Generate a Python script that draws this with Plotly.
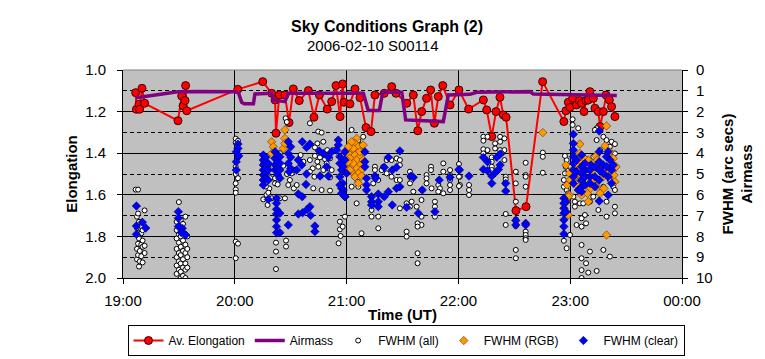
import pandas as pd
import plotly.graph_objects as go

# ---------------- data (time = minutes after 19:00 UT) ----------------
title = "Sky Conditions Graph (2)"
subtitle = "2006-02-10 S00114"
start = "2006-02-10 19:00"
x_ticks_text = ["19:00", "20:00", "21:00", "22:00", "23:00", "00:00"]

elongation = [(6.8,1.109),(7.2,1.189),(8.6,1.165),(8.9,1.189),(10.2,1.088),(11.6,1.16),(29.5,1.244),(31.5,1.125),
 (32.2,1.173),(33.3,1.147),(33.6,1.075),(34.2,1.196),(61.6,1.093),(75.0,1.056),(79.8,1.112),(81.6,1.144),(82.1,1.304),
 (83.9,1.12),(86.9,1.12),(89.1,1.253),(91.4,1.091),(94.6,1.147),(99.5,1.099),(102.5,1.227),(105.4,1.12),(109.6,1.188),
 (112.0,1.152),(114.3,1.075),(116.5,1.224),(117.9,1.067),(118.6,1.155),(121.8,1.163),(124.5,1.091),(127.2,1.133),
 (130.4,1.277),(133.1,1.296),(135.2,1.12),(140.2,1.112),(144.2,1.08),(146.5,1.112),(152.3,1.16),(155.8,1.12),
 (158.2,1.292),(160.3,1.2),(162.9,1.136),(165.1,1.096),(167.1,1.256),(169.2,1.128),(171.6,1.075),(175.5,1.168),
 (180.3,1.096),(185.5,1.188),(193.4,1.144),(195.2,1.192),(197.9,1.32),(200.2,1.2),(202.3,1.131),(204.1,1.216),
 (205.6,1.227),(210.9,1.676),(216.3,1.657),(225.2,1.056),(236.6,1.248),(237.7,1.196),(239.0,1.155),(239.9,1.18),
 (241.3,1.136),(243.4,1.168),(244.9,1.147),(246.1,1.16),(247.4,1.2),(248.5,1.147),(249.7,1.144),(250.6,1.104),
 (252.4,1.136),(253.3,1.184),(255.1,1.2),(256.0,1.272),(257.8,1.2),(259.2,1.12),(261.0,1.144),(262.2,1.176),(264.0,1.224)]

airmass = [(7,1.33),(18,1.2),(29.5,1.05),(40,1.03),(50,1.05),(60,1.05),(62,1.1),(63.7,1.55),(65,1.62),(70,1.62),
 (70.8,1.15),(79.8,1.12),(80.7,1.44),(86.9,1.52),(88.7,1.12),(129,1.12),(131.6,1.95),(137.6,1.95),(139.4,1.06),
 (149.6,1.07),(151.7,2.4),(171.9,2.48),(174.6,1.2),(186.2,1.17),(189.8,1.07),(218.4,1.04),(220.2,1.15),(240,1.18),(265,1.22)]

fwhm_all = [
 (6.8,5.75),(7.5,7.05),(7.5,8.6),(7.5,9.1),(7.5,7.6),(8.1,5.75),(8.1,6.9),(8.1,7.45),(8.1,8.35),(8.1,8.9),(8.6,7.3),
 (8.6,8.1),(8.6,9.45),(9.0,7.9),(9.0,8.7),(9.0,9.2),(9.8,7.65),(9.8,7.85),(9.8,8.4),(9.8,8.95),(9.8,7.5),(10.5,8.2),
 (10.5,8.5),(10.5,9.25),(10.5,7.7),(11.6,6.75),(11.6,8.8),(11.6,8.45),
 (28.8,7.3),(28.8,7.7),(28.8,8.1),(28.8,8.6),(28.8,9.0),(28.8,9.4),(28.8,9.8),
 (30,6.35),(30,7.5),(30,7.9),(30,8.3),(30,8.8),(30,9.2),(30,9.6),
 (31,7.2),(31,7.6),(31,8.0),(31,8.5),(31,8.9),(31,9.3),(31,9.7),(31,10.0),
 (32.2,7.4),(32.2,7.8),(32.2,8.2),(32.2,8.7),(32.2,9.1),(32.2,9.5),(32.2,9.9),
 (33.5,7.05),(33.5,7.9),(33.5,8.4),(33.5,8.8),(33.5,9.3),(33.5,9.6),(33.5,10.0),
 (34.5,8.0),(34.5,8.6),(34.5,9.0),(34.5,9.5),
 (60.5,3.3),(60.5,3.5),(60.5,4.65),(60.5,5.0),(60.5,5.45),(60.5,5.75),(60.5,5.9),(60.5,8.25),(60.5,9.05),
 (61.7,3.4),(61.7,4.2),(61.7,5.2),(61.7,8.35),
 (75.3,6.22),(77.6,6.49),(79.8,6.17),(84.2,6.17),(86.9,6.17),(81.6,5.45),(89.6,5.29),(88.7,5.53),(91.7,5.69),
 (90.5,4.97),(92.3,4.81),(82.1,8.3),(87.5,8.2),(87.5,8.49),(82.1,8.73),(82.1,9.57),(116.4,7.29),(116.4,7.66),
 (116.8,7.98),(115.7,8.33),(117.9,7.53),(119.1,7.05),(100.3,2.56),(104.8,2.96),(106.6,3.01),(107.5,3.45),
 (104.3,3.53),(100.3,4.33),(103,4.13),(104.3,4.41),(105.7,4.2),(107.1,4.01),(108.4,4.29),(109.3,4.49),(111.1,4.25),
 (110.2,4.73),(112,4.81),(107.5,4.81),(104.8,4.65),(101.8,4.73),(100.3,4.89),(102.7,5.13),(106.1,5.1),(111.1,5.16),
 (102.1,5.69),(106.6,5.77),(111.1,5.8),(109.6,3.85),(112.9,3.85),(103,3.72),(95.3,4.09),(96.8,4.41),(93.2,5.53),
 (87.3,2.32),(87.9,2.5),(76,4.4),(78,4.7),(79,5.2),(78.5,5.7),(77,6.0),(86,4.6),(88,5.0),
 (75.3,4.5),(76.7,5.6),(78,5.9),(81.6,5.2),(83,5.5),(84.2,4.0),
 (122.7,2.88),(126.3,3.37),(128.9,3.21),(128,3.61),(135.2,4.65),(135.2,4.81),(138.8,4.81),(139.7,4.65),(141.5,4.33),
 (144.1,4.33),(146.8,4.25),(148.6,4.33),(148.6,4.57),(141.5,4.97),(144.1,5.13),(146.8,5.29),(148.6,5.29),(137,5.29),
 (134.3,5.45),(154,4.89),(154,5.13),(154.9,5.29),(154,5.45),(162.9,5.05),(162.9,5.21),(165.3,4.65),(165.3,4.81),
 (162.9,5.45),(165.6,5.69),(171.9,4.49),(171.9,4.89),(169.2,5.53),(170.1,5.69),(169.2,5.85),(171.9,5.93),
 (175.5,4.81),(175.5,5.05),(175.5,5.29),(175.5,5.53),(175.5,5.77),(180.8,5.13),(180.8,5.53),(160.6,5.77),
 (155.8,5.85),(160.2,6.25),(154.9,6.33),(157.6,6.57),(152.2,6.41),(154,6.57),(167.4,6.33),(167.4,6.57),(167.4,7.05),
 (160.2,7.05),(160.2,7.45),(158.1,7.37),(158.1,7.53),(125.4,6.41),(122.7,5.61),(126.3,5.61),(133.4,6.73),
 (133.4,7.05),(137,7.05),(148.6,6.65),(128,7.85),(137,7.61),(152.2,7.77),(152.2,8.01),(158.1,8.81),(158.1,9.29),
 (125.9,5.37),(124.1,5.13),
 (180.3,4.52),(180.3,4.81),(180.3,5.13),(180.3,5.58),(185.7,5.53),(185.7,5.77),(185.7,6.01),(193.4,3.21),(193.4,3.4),
 (193.4,3.81),(193.4,4.01),(195.6,3.21),(195.6,3.85),(197.9,4.2),(197.9,4.41),(197.9,4.65),(197.9,4.81),(199.7,3.53),
 (199.7,3.77),(202.4,3.21),(202.4,3.45),(202.4,3.85),(204.7,3.29),(204.7,3.85),(204.7,4.33),(203.2,4.01),(205.4,5.13),
 (205.4,5.26),(205,5.45),(210.8,4.89),(210.8,5.45),(210.8,6.33),(210.8,7.18),(216.1,4.46),(216.1,5.05),(216.1,5.13),
 (216.1,5.61),(216.1,7.77),(216.1,7.93),(216.1,8.09),(216.1,8.17),(225.3,3.97),(225.3,4.17),(225.3,4.94),(205.4,6.92),
 (205.4,7.45),(210.8,8.65),(210.8,9.05),(210.8,7.5),
 (241.3,2.37),(241.3,2.64),(244.3,2.8),(254.2,2.8),(253.3,2.88),(257.8,3.21),(259.5,3.37),(262.2,3.45),(264,3.56),
 (236.6,5.29),(236.6,5.61),(238.1,5.77),(239,5.93),(241.7,6.09),(242.5,6.33),(242.5,6.57),(245.2,6.41),(247,6.41),
 (247.9,6.97),(246.1,7.13),(248.5,7.37),(246.1,7.53),(243.4,7.45),(236.6,8.21),(238.1,8.57),(239.9,7.93),(255.1,6.73),
 (259.5,7.05),(264,6.57),(264,6.89),(260.4,4.81),(261.3,5.29),(263.1,5.61),(257.8,5.61),(252.4,6.09),(250.6,6.33),
 (246.1,8.41),(250.6,8.73),(257.8,8.65),(261.3,8.97),(246.1,9.05),(248.5,9.29),(246.1,9.62),(249.7,9.74),(254.2,9.66),
 (246.1,10.0),(237.2,4.97),(239,4.81),(253.3,5.53),(259.5,6.33),(238.1,4.33),(239.9,4.65),(243.4,5.45),(248.8,4.81),
 (252.4,4.17),(256,3.85),(261.3,3.69),(264,4.01),(264,5.77),(254.2,3.37),(237.2,4.13),(237.6,4.65)]

fwhm_rgb = [
 (79.8,3.45),(80.7,3.69),(79.8,4.01),(86.9,2.88),(86.9,3.29),(86,3.77),(86.9,3.53),(120,4.01),(120.9,4.41),(120,4.73),
 (125.4,3.29),(124.5,3.53),(126.3,3.69),(122.7,3.85),(128,3.93),(120.9,4.01),(124.5,4.09),(127.1,4.17),(121.8,4.25),
 (125.4,4.33),(128.9,4.33),(123.6,4.49),(127.1,4.57),(120,4.65),(125.4,4.73),(128,4.81),(122.7,4.89),(126.3,4.97),
 (124.5,5.13),(128,5.1),(126.3,5.45),(120.9,4.41),(123.6,3.77),(128.9,3.61),(121.8,4.81),(122.7,3.45),(127.1,3.93),
 (120.9,3.69),
 (225.3,3.01),
 (237.7,4.57),(238.4,5.53),(239.5,6.01),(239,6.97),(245.2,3.56),(245.2,4.01),(245.2,4.33),(244.3,4.81),(245.2,5.13),
 (244.3,5.61),(246.1,6.01),(249.7,6.33),(249.2,5.93),(249.7,4.33),(251.5,4.57),(252.4,4.81),(253.8,4.13),(254.5,4.33),
 (256,4.65),(257.8,5.13),(258.1,5.69),(258.7,3.65),(259.5,2.69),(259.5,7.93),(261.3,4.17),(262.2,4.49),(263.1,4.81),
 (263.5,5.05),(264,5.37),(261.3,3.93),(263.1,4.25),(264.6,4.65),(260.4,4.89),(239.5,4.97),(239.9,5.29),(242.5,5.13),
 (248.8,5.45),(251,5.69),(256,5.93),(247,4.2),(243.4,4.57),(252.4,5.29),(254.2,5.61),(241.7,4.73),(239,6.09),(238.1,6.33)]

fwhm_clear = [
 (7.2,6.54),(10.4,7.32),(7.2,7.5),(12.2,7.6),(7.2,7.9),(29.7,6.81),(29.7,7.13),(29.7,7.53),(31.8,7.61),(31.3,7.82),
 (33.6,7.93),(61.7,3.56),(61.7,3.77),(60.8,3.93),(62.1,4.13),(60.8,4.41),(60.8,4.81),
 (75.3,4.09),(75.3,4.33),(75.3,4.57),(75.3,4.81),(75.3,5.05),(75.3,5.29),(75.3,5.53),(76.7,4.2),(76.7,4.46),(76.7,4.73),
 (76.7,4.97),(76.7,5.21),(78,4.49),(78,4.81),(78,5.29),(81.6,3.93),(81.6,4.25),(81.6,4.57),(81.6,4.81),(83,4.09),
 (83,4.41),(83,4.73),(83,5.05),(84.2,4.17),(84.2,4.49),(84.2,4.81),(84.2,5.21),(82.4,6.17),(82.4,6.41),(82.4,6.7),
 (82.4,6.92),(82.4,7.21),(82.4,7.53),(82.4,7.82),(84.2,6.89),(84.2,7.82),(78,6.22),(88.7,3.45),(90,3.69),(88.7,4.01),
 (90,4.2),(88.7,4.49),(90,4.73),(89.2,4.89),(96.2,3.45),(100.3,3.56),(98.5,3.72),(94.1,4.33),(95.9,4.57),(93.2,4.81),
 (98.5,5.0),(98.2,5.5),(94.1,5.96),(96.2,6.09),(100.3,6.57),(98.9,6.7),(96.4,6.86),(94.1,6.92),(100.7,6.99),
 (88.7,7.45),(103,7.5),(103,7.77),(105.3,3.89),(107.5,4.01),(110.2,4.2),(112,3.93),(109.3,4.65),(105.7,5.1),
 (110.2,5.1),(115.5,3.37),(115.5,3.61),(114.6,3.85),(116.4,4.17),(116.4,4.49),(117.3,4.81),(116.4,5.13),(117.9,5.45),
 (118.2,5.77),(119.1,6.09),(119.1,3.93),(119.1,4.33),(118.2,4.65),(120,4.97),(117.3,5.69),(117.3,5.93),(116.4,5.53),
 (129.8,3.93),(129.8,4.41),(129.8,4.65),(130.7,5.21),(130.7,5.53),(130.7,5.77),(133.4,6.09),(133.4,6.33),(133.4,6.49),
 (137,5.96),(137,6.33),(137,6.57),(140.2,6.09),(142.4,5.85),(146.8,5.69),(148.6,5.61),(144.5,6.49),(142.4,4.2),
 (140.2,4.68),(144.5,4.81),(146.8,4.68),(148.6,3.89),(135.2,5.1),(135.6,5.21),(154.5,5.1),(155.8,5.16),(160.6,5.77),
 (152.2,6.6),(158.5,6.89),(167.4,6.81),(169.7,5.29),(175.5,5.16),(180.5,4.81),(119.1,6.09),
 (180.3,4.78),(185.7,5.1),(193.4,4.2),(195.6,4.41),(193.4,4.78),(195.6,4.84),(197.9,5.1),(199.7,4.94),(201.5,4.78),
 (202.4,4.57),(200.6,4.2),(202.4,4.04),(197.9,5.45),(205.4,5.45),(205.4,5.82),(210.8,7.24),(210.8,7.45),(216.1,7.37),
 (216.1,7.45),
 (236.6,6.17),(236.6,6.41),(236.6,6.65),(236.6,6.89),(236.6,7.21),(236.6,7.53),(237.7,6.33),(237.7,6.81),(236.6,7.88),
 (241.7,3.09),(241.7,3.53),(241.7,3.85),(241.7,4.17),(241.7,4.49),(241.7,4.81),(241.7,5.13),(241.7,5.45),(243.4,4.33),
 (243.4,4.89),(246.1,4.65),(246.1,4.97),(246.1,5.29),(246.1,5.61),(246.1,5.85),(247.9,4.49),(247.9,4.81),(247.9,5.13),
 (247.9,5.53),(250.6,4.81),(250.6,5.13),(250.6,5.45),(251,4.57),(253.3,4.65),(253.3,5.13),(253.3,5.61),(255.6,2.93),
 (255.6,3.93),(255.6,4.41),(255.6,4.81),(255.6,5.29),(255.6,6.3),(257.8,4.57),(257.8,4.97),(259.5,4.17),(259.5,4.65),
 (260.4,3.93),(260.4,5.13),(260.4,6.01),(261.3,4.33),(262.2,4.81),(263.1,4.57),(262.2,5.45),(246.1,4.09),(244.3,5.77)]

# ---------------- build ----------------
t0 = pd.Timestamp(start)
def split(pairs):
    xs = [t0 + pd.Timedelta(minutes=p[0]) for p in pairs]
    ys = [p[1] for p in pairs]
    return xs, ys

FONT = "Liberation Sans, Arial, sans-serif"
W, H = 765, 359
L, R, T, B = 123, 83, 70, 81
PW, PH = W - L - R, H - T - B

fig = go.Figure()

x, y = split(fwhm_all)
fig.add_trace(go.Scatter(x=x, y=y, yaxis="y2", mode="markers", name="FWHM (all)", legendrank=3,
    marker=dict(symbol="circle", size=5, color="white", line=dict(color="black", width=1))))
x, y = split(fwhm_rgb)
fig.add_trace(go.Scatter(x=x, y=y, yaxis="y2", mode="markers", name="FWHM (RGB)", legendrank=4,
    marker=dict(symbol="diamond", size=6.5, color="#FF9900", line=dict(color="#603000", width=0.6))))
x, y = split(fwhm_clear)
fig.add_trace(go.Scatter(x=x, y=y, yaxis="y2", mode="markers", name="FWHM (clear)", legendrank=5,
    marker=dict(symbol="diamond", size=6.5, color="#0000FF", line=dict(color="#000060", width=0.6))))
x, y = split(airmass)
fig.add_trace(go.Scatter(x=x, y=y, yaxis="y2", mode="lines", name="Airmass", legendrank=2,
    line=dict(color="#800080", width=3.5)))
x, y = split(elongation)
fig.add_trace(go.Scatter(x=x, y=y, mode="lines+markers", name="Av. Elongation", legendrank=1,
    line=dict(color="#FF0000", width=2),
    marker=dict(symbol="circle", size=8, color="#FF0000", line=dict(color="#400000", width=1))))

tickvals = [t0 + pd.Timedelta(hours=h) for h in range(6)]
fig.update_layout(
    width=W, height=H,
    margin=dict(l=L, r=R, t=T, b=B, autoexpand=False),
    paper_bgcolor="white", plot_bgcolor="#C0C0C0",
    font=dict(family=FONT, size=15, color="black"),
    showlegend=True,
    annotations=[
        dict(text="<b>" + title + "</b>", xref="paper", yref="paper", x=(387 - L) / PW, y=1 + (T - 26) / PH,
             showarrow=False, font=dict(size=16), xanchor="center", yanchor="middle"),
        dict(text=subtitle, xref="paper", yref="paper", x=(373 - L) / PW, y=1 + (T - 46) / PH,
             showarrow=False, font=dict(size=15), xanchor="center", yanchor="middle"),
    ],
    xaxis=dict(type="date", range=[tickvals[0], tickvals[-1]], tickvals=tickvals, ticktext=x_ticks_text,
               showgrid=True, gridcolor="black", gridwidth=1, showline=True, linecolor="black", linewidth=1,
               ticks="outside", ticklen=5, tickcolor="black", ticklabelstandoff=4,
               title=dict(text="<b>Time (UT)</b>", font=dict(size=15), standoff=1), zeroline=False),
    yaxis=dict(range=[2.0, 1.0], tickvals=[1.0, 1.2, 1.4, 1.6, 1.8, 2.0],
               ticktext=["1.0", "1.2", "1.4", "1.6", "1.8", "2.0"],
               showgrid=True, gridcolor="black", gridwidth=1, showline=True, linecolor="black", linewidth=1,
               ticks="outside", ticklen=5, tickcolor="black", ticklabelstandoff=8,
               minor=dict(tickvals=[1.1, 1.3, 1.5, 1.7, 1.9], showgrid=True, gridcolor="black", griddash="4px,3px",
                          gridwidth=1, ticks=""),
               title=dict(text="<b>Elongation</b>", font=dict(size=15), standoff=3), zeroline=False),
    yaxis2=dict(overlaying="y", side="right", range=[10, 0], tickvals=list(range(11)),
                showgrid=False, showline=True, linecolor="black", linewidth=1,
                ticks="outside", ticklen=5, tickcolor="black", ticklabelstandoff=5,
                title=dict(text="<b>FWHM (arc secs)<br>Airmass</b>", font=dict(size=15), standoff=10),
                zeroline=False),
    legend=dict(orientation="h", x=(406 - L) / PW, xanchor="center", y=-(325 - (T + PH)) / PH, yanchor="top",
                bgcolor="white", bordercolor="black", borderwidth=1, font=dict(size=12),
                traceorder="normal", itemwidth=30),
    shapes=[dict(type="line", xref="paper", yref="paper", x0=0, x1=1, y0=1, y1=1,
                 line=dict(color="#808080", width=1))],
)
fig.write_html("out.html", config={"displayModeBar": False},
               post_script="document.body.style.margin='0px';document.body.style.padding='0px';")
